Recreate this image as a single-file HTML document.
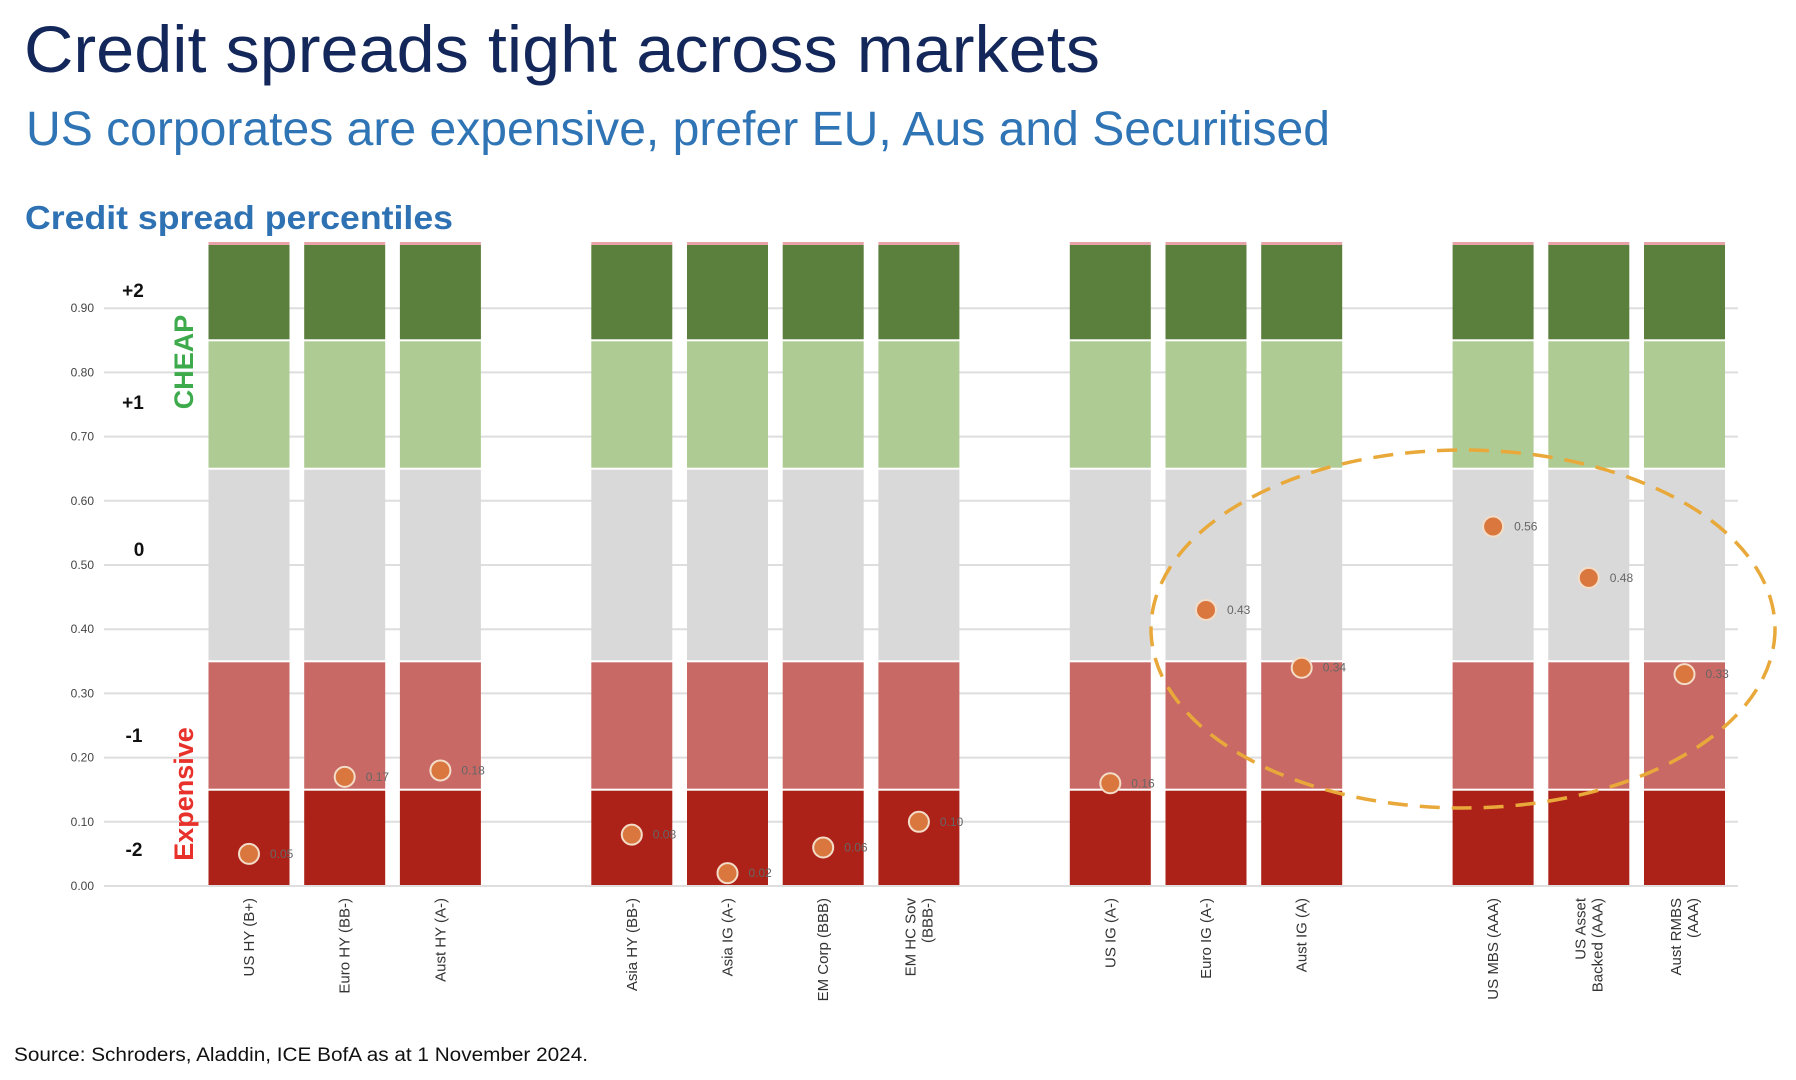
<!DOCTYPE html>
<html><head><meta charset="utf-8"><style>
html,body{margin:0;padding:0;background:#fff;}
svg{display:block;font-family:"Liberation Sans",sans-serif;}
</style></head><body>
<svg id="chart" width="1796" height="1080" viewBox="0 0 1796 1080" xmlns="http://www.w3.org/2000/svg">
<text x="24" y="72" font-size="66" fill="#13275a" textLength="1076" lengthAdjust="spacingAndGlyphs">Credit spreads tight across markets</text>
<text x="26" y="145" font-size="48" fill="#2f74b5" textLength="1304" lengthAdjust="spacingAndGlyphs">US corporates are expensive, prefer EU, Aus and Securitised</text>
<text x="25" y="229" font-size="33" font-weight="bold" fill="#2e72b4" textLength="428" lengthAdjust="spacingAndGlyphs">Credit spread percentiles</text>
<g id="grid"></g>
<g id="bars"></g>
<g id="points"></g>
<g id="xlabels"></g>
<g id="sidelabels">
<text x="133" y="297" font-size="19" font-weight="bold" text-anchor="middle" fill="#111">+2</text>
<text x="133" y="409" font-size="19" font-weight="bold" text-anchor="middle" fill="#111">+1</text>
<text x="139" y="556" font-size="19" font-weight="bold" text-anchor="middle" fill="#111">0</text>
<text x="134" y="742" font-size="19" font-weight="bold" text-anchor="middle" fill="#111">-1</text>
<text x="134" y="856" font-size="19" font-weight="bold" text-anchor="middle" fill="#111">-2</text>
<text transform="translate(193,362) rotate(-90)" font-size="27" font-weight="bold" text-anchor="middle" fill="#3daa4c">CHEAP</text>
<text transform="translate(193,794) rotate(-90)" font-size="27" font-weight="bold" text-anchor="middle" fill="#e8312a">Expensive</text>
</g>
<ellipse cx="1463" cy="629" rx="312" ry="179" fill="none" stroke="#e9a93a" stroke-width="3.5" stroke-dasharray="20,12"/>
<text x="14" y="1061" font-size="19" fill="#111" textLength="574" lengthAdjust="spacingAndGlyphs">Source: Schroders, Aladdin, ICE BofA as at 1 November 2024.</text>
</svg>
<script>
const categories=["US HY (B+)","Euro HY (BB-)","Aust HY (A-)","Asia HY (BB-)","Asia IG (A-)","EM Corp (BBB)","EM HC Sov|(BBB-)","US IG (A-)","Euro IG (A-)","Aust IG (A)","US MBS (AAA)","US Asset|Backed (AAA)","Aust RMBS|(AAA)"];
const slots=[0,1,2,4,5,6,7,9,10,11,13,14,15];
const percentiles=[0.05,0.17,0.18,0.08,0.02,0.06,0.10,0.16,0.43,0.34,0.56,0.48,0.33];
const bandEdges=[0,0.15,0.35,0.65,0.85,1.0];
const yTicks=[0,0.1,0.2,0.3,0.4,0.5,0.6,0.7,0.8,0.9];
const bandColors=["#ad2218","#c96965","#d9d9d9","#aecb94","#5b7f3c"];
const NS="http://www.w3.org/2000/svg";
const y0=886, perUnit=642;
function y(v){return y0-v*perUnit;}
function x(slot){return 249+slot*95.7;}
function mk(tag,attrs,parent){const e=document.createElementNS(NS,tag);for(const k in attrs)e.setAttribute(k,attrs[k]);parent.appendChild(e);return e;}
const grid=document.getElementById('grid');
yTicks.forEach(t=>{
  const l=mk('line',{x1:104,x2:1738,y1:y(t),y2:y(t),stroke:'#dedede','stroke-width':2},grid);
  
  
  const tx=mk('text',{x:94,y:y(t)+4,'font-size':12,'text-anchor':'end',fill:'#444'},grid);
  tx.textContent=t.toFixed(2);
  
  
});
const bars=document.getElementById('bars');
const bw=81;
categories.forEach((c,i)=>{
  const cx=x(slots[i]);
  for(let b=0;b<bandColors.length;b++){
    const top=y(bandEdges[b+1]), bot=y(bandEdges[b]);
    const r=mk('rect',{x:cx-bw/2,y:top+1,width:bw,height:bot-top-2,fill:bandColors[b]},bars);
    
    
  }
  const cap=mk('rect',{x:cx-bw/2,y:y(1.0)-2,width:bw,height:3,fill:'#e7a3a8'},bars);
  
  
});
const pts=document.getElementById('points');
percentiles.forEach((v,i)=>{
  const cx=x(slots[i]);
  const c=mk('circle',{cx:cx,cy:y(v),r:10,fill:'#d9773f',stroke:'#f3ddc8','stroke-width':2},pts);
  
  
  const t=mk('text',{x:cx+21,y:y(v)+4,'font-size':12,fill:'#666'},pts);
  t.textContent=v.toFixed(2);
  
  
});
const xl=document.getElementById('xlabels');
categories.forEach((c,i)=>{
  const cx=x(slots[i]);
  const lines=c.split('|');
  const g=mk('text',{transform:`translate(${cx},898) rotate(-90)`,'font-size':15,'text-anchor':'end',fill:'#333'},xl);
  
  
  lines.forEach((ln,k)=>{
    const off=(k-(lines.length-1)/2)*17+5;
    const s=mk('tspan',{x:0,y:off},g);
    s.textContent=ln;
  });
});
</script>
</body></html>
